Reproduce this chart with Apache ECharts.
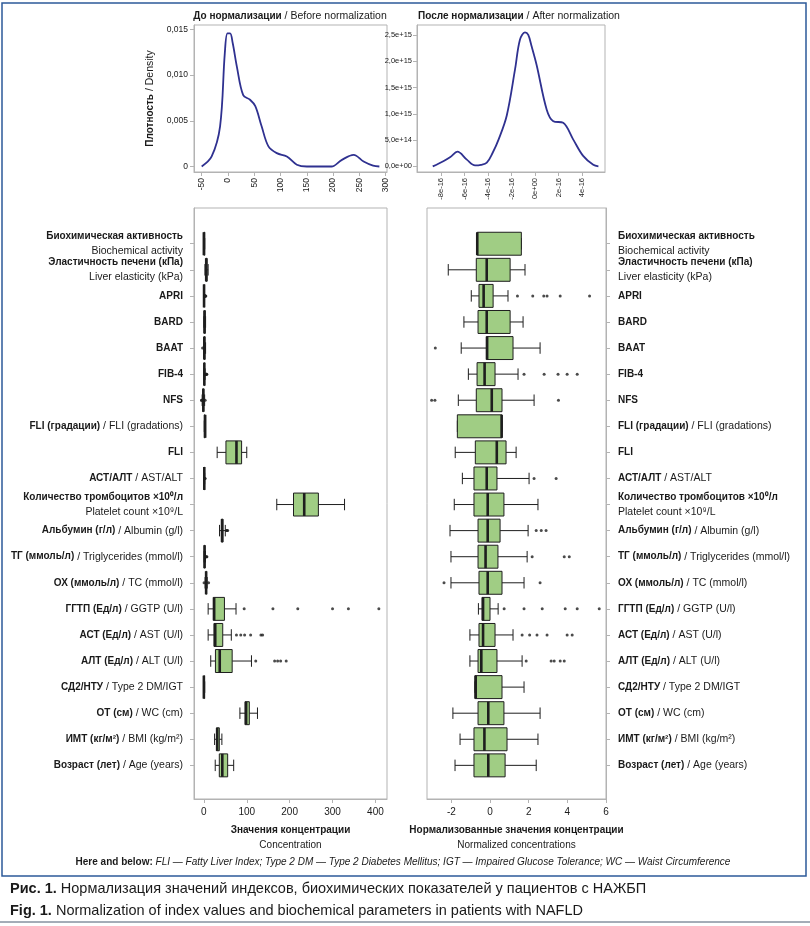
<!DOCTYPE html>
<html>
<head>
<meta charset="utf-8">
<title>Нормализация значений индексов</title>
<script src="https://cdn.jsdelivr.net/npm/echarts@6/dist/echarts.min.js"></script>
<style>
  html, body { margin: 0; padding: 0; background: #fff; }
  #chart { width: 810px; height: 926px; }
</style>
</head>
<body>
<div id="chart"></div>
<script>
var FONT = '"Liberation Sans", Arial, sans-serif';
var FRAME = '#b3b3b3';

// --- density curves (top) ---
var beforeX = [-50, -31, -15, -6, -1, 4, 9, 17, 29, 42, 52, 64, 77, 93, 112, 131, 150, 175, 197, 216, 239, 258, 276, 288];
var beforeY = [0, 0.0011, 0.0044, 0.0124, 0.01455, 0.01455, 0.0135, 0.0109, 0.0078, 0.0073, 0.0066, 0.0044, 0.0022, 0.00146, 0.0011, 0.0002, 0, 0, 0, 0.0007, 0.00128, 0.00055, 0.0001, 0];
var beforeXTicks = [-50, 0, 50, 100, 150, 200, 250, 300];
var beforeYTicks = [0, 0.005, 0.01, 0.015];
var beforeYLabels = ['0', '0,005', '0,010', '0,015'];

// x in units of 1e-16, y in units of 1e15
var afterX = [-8.7, -7.8, -7.2, -6.6, -5.8, -5.1, -4.6, -4.1, -3.6, -3.1, -2.4, -1.7, -1.28, -0.85, -0.57, -0.28, 0.14, 1.0, 1.56, 2.4, 3.26, 4.1, 4.96, 5.4];
var afterY = [0, 0.1, 0.18, 0.28, 0.13, 0.02, 0.03, 0.07, 0.26, 0.51, 0.97, 1.84, 2.41, 2.55, 2.5, 2.28, 1.93, 1.08, 0.86, 0.83, 0.51, 0.2, 0.03, 0];
var afterXTicks = [-8, -6, -4, -2, 0, 2, 4];
var afterXLabels = ['-8e-16', '-6e-16', '-4e-16', '-2e-16', '0e+00', '2e-16', '4e-16'];
var afterYTicks = [0, 0.5, 1, 1.5, 2, 2.5];
var afterYLabels = ['0,0e+00', '5,0e+14', '1,0e+15', '1,5e+15', '2,0e+15', '2,5e+15'];

// --- rows of the box plots (top to bottom) ---
var rowBold = ['Биохимическая активность', 'Эластичность печени (кПа)', 'APRI', 'BARD', 'BAAT', 'FIB-4', 'NFS',
  'FLI (градации)', 'FLI', 'АСТ/АЛТ', 'Количество тромбоцитов ×10⁰/л', 'Альбумин (г/л)', 'ТГ (ммоль/л)',
  'ОХ (ммоль/л)', 'ГГТП (Ед/л)', 'АСТ (Ед/л)', 'АЛТ (Ед/л)', 'СД2/НТУ', 'ОТ (см)', 'ИМТ (кг/м²)', 'Возраст (лет)'];
var rowRegular = ['Biochemical activity', 'Liver elasticity (kPa)', '', '', '', '', '',
  'FLI (gradations)', '', 'AST/ALT', 'Platelet count ×10⁹/L', 'Albumin (g/l)', 'Triglycerides (mmol/l)',
  'TC (mmol/l)', 'GGTP (U/l)', 'AST (U/l)', 'ALT (U/l)', 'Type 2 DM/IGT', 'WC (cm)', 'BMI (kg/m²)', 'Age (years)'];
var twoLineRows = [0, 1, 10];

// [min, Q1, median, Q3, max] — concentration values
var rawStats = [
  [0, 0, 0, 2, 2], [2.5, 4.5, 5.5, 7.5, 10], [0.1, 0.3, 0.45, 0.7, 1.3], [0, 1, 1.5, 3, 4], [0, 1, 1, 2.5, 4],
  [0.3, 0.8, 1.1, 1.6, 2.8], [-4, -2.5, -1.2, -0.5, 1.8], [1, 1, 3, 3, 3], [31, 51.5, 76, 88, 100],
  [0.4, 0.8, 1, 1.3, 1.9], [170, 209, 234, 267, 328], [36.5, 41, 42.5, 44.5, 50], [0.5, 1.2, 1.6, 2.3, 3.8],
  [2.8, 4.6, 5.3, 6.1, 7.8], [10, 22, 24, 48, 75], [10, 23.5, 26.5, 44, 64], [16, 27, 37, 66, 111],
  [0, 0, 0, 1, 2], [84, 96, 98.5, 106, 125], [25, 29.5, 31, 36, 42], [26.5, 36, 43, 55.5, 69.5]
];
var rawOutliers = [
  [], [], [1.7, 2.3, 2.7, 2.9, 3.4, 4.6], [], [-3], [3.2, 4.5, 5.5, 6, 7], [-5.5, -5, 3], [], [],
  [2.2, 3], [], [52.5, 54, 55.5], [4.3, 6.5, 7], [0.5, 11], [94, 161, 219, 300, 337, 408],
  [76, 86, 95, 109, 133, 137], [121, 165, 172, 179, 192], [], [], [], []
];

// [min, Q1, median, Q3, max] — normalized values
var normStats = [
  [-0.66, -0.66, -0.66, 1.62, 1.62], [-2.16, -0.71, -0.17, 1.04, 1.81], [-0.97, -0.57, -0.33, 0.16, 0.93],
  [-1.35, -0.62, -0.17, 1.04, 1.71], [-1.49, -0.19, -0.15, 1.19, 2.59], [-1.12, -0.67, -0.28, 0.26, 1.45],
  [-1.64, -0.71, 0.09, 0.62, 2.28], [-1.69, -1.69, 0.6, 0.62, 0.62], [-1.8, -0.76, 0.35, 0.83, 1.35],
  [-1.43, -0.83, -0.17, 0.36, 2.02], [-1.85, -0.83, -0.12, 0.72, 2.48], [-2.07, -0.62, -0.12, 0.52, 1.97],
  [-2.02, -0.62, -0.23, 0.41, 1.92], [-2.02, -0.57, -0.12, 0.62, 1.76], [-0.6, -0.41, -0.36, 0, 0.42],
  [-1.04, -0.57, -0.36, 0.26, 1.19], [-1.04, -0.62, -0.45, 0.36, 1.66], [-0.78, -0.78, -0.74, 0.62, 1.76],
  [-1.92, -0.62, -0.09, 0.72, 2.59], [-1.55, -0.83, -0.29, 0.88, 2.48], [-1.81, -0.83, -0.09, 0.78, 2.39]
];
var normOutliers = [
  [], [], [1.42, 2.21, 2.78, 2.95, 3.63, 5.15], [], [-2.83], [1.76, 2.8, 3.52, 3.99, 4.51],
  [-3.02, -2.85, 3.54], [], [], [2.28, 3.42], [], [2.39, 2.65, 2.9], [2.18, 3.84, 4.1], [-2.38, 2.59],
  [0.73, 1.76, 2.7, 3.89, 4.51, 5.65], [1.66, 2.05, 2.43, 2.95, 3.99, 4.25], [1.87, 3.16, 3.32, 3.63, 3.84],
  [], [], [], []
];

var rawTicks = [0, 100, 200, 300, 400];
var normTicks = [-2, 0, 2, 4, 6];

var rowIdx = rowBold.map(function (_, i) { return i; });

function rowLabel(i) {
  var b = rowBold[i], r = rowRegular[i];
  if (!r) return '{b|' + b + '}';
  if (twoLineRows.indexOf(i) >= 0) return '{b|' + b + '}\n{r|' + r + '}';
  return '{b|' + b + '}{r| / ' + r + '}';
}

function boxData(stats) {
  return stats.map(function (s, i) { return [i].concat(s); });
}
function outlierData(outs) {
  var d = [];
  outs.forEach(function (arr, i) { arr.forEach(function (v) { d.push([v, i]); }); });
  return d;
}

function renderBox(params, api) {
  var i = api.value(0);
  var band = api.size([0, 1])[1];
  var h = band * 0.88;
  var pLo = api.coord([api.value(1), i]);
  var pQ1 = api.coord([api.value(2), i]);
  var pMd = api.coord([api.value(3), i]);
  var pQ3 = api.coord([api.value(4), i]);
  var pHi = api.coord([api.value(5), i]);
  var y = pMd[1];
  var stroke = { stroke: '#1e1e1e', lineWidth: 1 };
  return {
    type: 'group',
    children: [
      { type: 'line', shape: { x1: pLo[0], y1: y, x2: pQ1[0], y2: y }, style: stroke },
      { type: 'line', shape: { x1: pQ3[0], y1: y, x2: pHi[0], y2: y }, style: stroke },
      { type: 'line', shape: { x1: pLo[0], y1: y - h / 4, x2: pLo[0], y2: y + h / 4 }, style: stroke },
      { type: 'line', shape: { x1: pHi[0], y1: y - h / 4, x2: pHi[0], y2: y + h / 4 }, style: stroke },
      { type: 'rect', shape: { x: pQ1[0], y: y - h / 2, width: pQ3[0] - pQ1[0], height: h },
        style: { fill: '#a0cd84', stroke: '#1e1e1e', lineWidth: 1 } },
      { type: 'line', shape: { x1: pMd[0], y1: y - h / 2, x2: pMd[0], y2: y + h / 2 },
        style: { stroke: '#1e1e1e', lineWidth: 2.6 } }
    ]
  };
}

var labelRich = {
  b: { fontFamily: FONT, fontWeight: 'bold', fontSize: 10, color: '#1a1a1a', lineHeight: 15 },
  r: { fontFamily: FONT, fontWeight: 'normal', fontSize: 10.5, color: '#1a1a1a', lineHeight: 15 }
};
var titleRich = {
  b: { fontFamily: FONT, fontWeight: 'bold', fontSize: 10, color: '#1a1a1a' },
  r: { fontFamily: FONT, fontWeight: 'normal', fontSize: 10.5, color: '#1a1a1a' }
};
var tickText = { fontFamily: FONT, fontSize: 10, color: '#1a1a1a' };
var noZeroLine = { onZero: false, show: true, lineStyle: { color: FRAME } };

var chart = echarts.init(document.getElementById('chart'), null, { renderer: 'canvas' });

var option = {
  backgroundColor: '#fff',
  animation: false,
  title: [
    { text: '{b|До нормализации}{r| / Before normalization}', left: 290, top: 11, textAlign: 'center', padding: 0,
      textStyle: { fontWeight: 'normal', fontSize: 10, rich: titleRich } },
    { text: '{b|После нормализации}{r| / After normalization}', left: 519, top: 11, textAlign: 'center', padding: 0,
      textStyle: { fontWeight: 'normal', fontSize: 10, rich: titleRich } },
    { text: '{b|Here and below: }{i|FLI — Fatty Liver Index; Type 2 DM — Type 2 Diabetes Mellitus; IGT — Impaired Glucose Tolerance; WC — Waist Circumference}',
      left: 403, top: 857, textAlign: 'center', padding: 0,
      textStyle: { fontWeight: 'normal', fontSize: 10, rich: {
        b: { fontFamily: FONT, fontWeight: 'bold', fontSize: 10, color: '#1a1a1a' },
        i: { fontFamily: FONT, fontStyle: 'italic', fontWeight: 'normal', fontSize: 10, color: '#1a1a1a' } } } },
    { text: '{b|Рис. 1. }{r|Нормализация значений индексов, биохимических показателей у пациентов с НАЖБП}',
      left: 10, top: 881, padding: 0,
      textStyle: { fontWeight: 'normal', fontSize: 14.5, rich: {
        b: { fontFamily: FONT, fontWeight: 'bold', fontSize: 14.5, color: '#1a1a1a' },
        r: { fontFamily: FONT, fontWeight: 'normal', fontSize: 14.5, color: '#1a1a1a' } } } },
    { text: '{b|Fig. 1. }{r|Normalization of index values and biochemical parameters in patients with NAFLD}',
      left: 10, top: 903, padding: 0,
      textStyle: { fontWeight: 'normal', fontSize: 14.5, rich: {
        b: { fontFamily: FONT, fontWeight: 'bold', fontSize: 14.5, color: '#1a1a1a' },
        r: { fontFamily: FONT, fontWeight: 'normal', fontSize: 14.5, color: '#1a1a1a' } } } }
  ],
  graphic: [
    { type: 'rect', shape: { x: 2, y: 3, width: 804, height: 873 }, style: { fill: null, stroke: '#2d5a99', lineWidth: 1.5 }, silent: true },
    { type: 'line', shape: { x1: 0, y1: 922, x2: 810, y2: 922 }, style: { stroke: '#4a5a70', lineWidth: 1 }, silent: true }
  ],
  grid: [
    { left: 194, top: 25, width: 193, height: 147, show: true, borderColor: FRAME, borderWidth: 1, outerBoundsMode: 'none' },
    { left: 417, top: 25, width: 188, height: 147, show: true, borderColor: FRAME, borderWidth: 1, outerBoundsMode: 'none' },
    { left: 194, top: 208, width: 193, height: 591, show: true, borderColor: FRAME, borderWidth: 1, outerBoundsMode: 'none' },
    { left: 427, top: 208, width: 179, height: 591, show: true, borderColor: FRAME, borderWidth: 1, outerBoundsMode: 'none' }
  ],
  xAxis: [
    { gridIndex: 0, type: 'value', min: -64.6, max: 302.5,
      axisLine: noZeroLine, splitLine: { show: false },
      axisTick: { customValues: beforeXTicks, length: 4, lineStyle: { color: FRAME } },
      axisLabel: { customValues: beforeXTicks, rotate: 90, margin: 6, ...tickText, fontSize: 8.5 } },
    { gridIndex: 1, type: 'value', min: -10.04, max: 5.96,
      axisLine: noZeroLine, splitLine: { show: false },
      axisTick: { customValues: afterXTicks, length: 4, lineStyle: { color: FRAME } },
      axisLabel: { customValues: afterXTicks, rotate: 90, margin: 6, ...tickText, fontSize: 7.5,
        formatter: function (v) { return afterXLabels[afterXTicks.indexOf(v)]; } } },
    { gridIndex: 2, type: 'value', min: -23, max: 427,
      axisLine: noZeroLine, splitLine: { show: false },
      axisTick: { customValues: rawTicks, length: 4, lineStyle: { color: FRAME } },
      axisLabel: { customValues: rawTicks, margin: 8, ...tickText },
      name: '{b|Значения концентрации}\n{r|Concentration}', nameLocation: 'middle', nameGap: 24,
      nameTextStyle: { rich: { b: labelRich.b, r: { ...labelRich.r, fontSize: 10 } } } },
    { gridIndex: 3, type: 'value', min: -3.26, max: 6,
      axisLine: noZeroLine, splitLine: { show: false },
      axisTick: { customValues: normTicks, length: 4, lineStyle: { color: FRAME } },
      axisLabel: { customValues: normTicks, margin: 8, ...tickText },
      name: '{b|Нормализованные значения концентрации}\n{r|Normalized concentrations}', nameLocation: 'middle', nameGap: 24,
      nameTextStyle: { rich: { b: labelRich.b, r: { ...labelRich.r, fontSize: 10 } } } }
  ],
  yAxis: [
    { gridIndex: 0, type: 'value', min: -0.0006, max: 0.01547,
      axisLine: noZeroLine, splitLine: { show: false },
      axisTick: { show: true, customValues: beforeYTicks, length: 4, lineStyle: { color: FRAME } },
      axisLabel: { customValues: beforeYTicks, margin: 6, ...tickText, fontSize: 8.5,
        formatter: function (v) { return beforeYLabels[beforeYTicks.indexOf(v)]; } },
      name: '{b|Плотность}{r| / Density}', nameLocation: 'middle', nameGap: 38, nameRotate: 90,
      nameTextStyle: { fontSize: 10, rich: titleRich } },
    { gridIndex: 1, type: 'value', min: -0.106, max: 2.69,
      axisLine: noZeroLine, splitLine: { show: false },
      axisTick: { show: true, customValues: afterYTicks, length: 4, lineStyle: { color: FRAME } },
      axisLabel: { customValues: afterYTicks, margin: 5, ...tickText, fontSize: 7.5,
        formatter: function (v) { return afterYLabels[afterYTicks.indexOf(v)]; } } },
    { gridIndex: 2, type: 'value', inverse: true, min: -1.37, max: 21.29,
      axisLine: noZeroLine, splitLine: { show: false },
      axisTick: { show: true, customValues: rowIdx, length: 4, lineStyle: { color: FRAME } },
      axisLabel: { customValues: rowIdx, margin: 11, showMinLabel: true, showMaxLabel: true, hideOverlap: false,
        rich: labelRich, formatter: function (v) { return rowLabel(v); } } },
    { gridIndex: 3, type: 'value', inverse: true, min: -1.37, max: 21.29, position: 'right',
      axisLine: noZeroLine, splitLine: { show: false },
      axisTick: { show: true, customValues: rowIdx, length: 4, lineStyle: { color: FRAME } },
      axisLabel: { customValues: rowIdx, margin: 12, showMinLabel: true, showMaxLabel: true, hideOverlap: false,
        rich: labelRich, formatter: function (v) { return rowLabel(v); } } }
  ],
  series: [
    { type: 'line', xAxisIndex: 0, yAxisIndex: 0, smooth: 0.35, showSymbol: false,
      lineStyle: { color: '#2f3190', width: 1.8 },
      data: beforeX.map(function (x, i) { return [x, beforeY[i]]; }) },
    { type: 'line', xAxisIndex: 1, yAxisIndex: 1, smooth: 0.35, showSymbol: false,
      lineStyle: { color: '#2f3190', width: 1.8 },
      data: afterX.map(function (x, i) { return [x, afterY[i]]; }) },
    { type: 'custom', xAxisIndex: 2, yAxisIndex: 2, renderItem: renderBox,
      encode: { x: [1, 2, 3, 4, 5], y: 0 }, data: boxData(rawStats) },
    { type: 'scatter', xAxisIndex: 2, yAxisIndex: 2, symbol: 'circle', symbolSize: 3,
      itemStyle: { color: '#1e1e1e' }, data: outlierData(rawOutliers) },
    { type: 'custom', xAxisIndex: 3, yAxisIndex: 3, renderItem: renderBox,
      encode: { x: [1, 2, 3, 4, 5], y: 0 }, data: boxData(normStats) },
    { type: 'scatter', xAxisIndex: 3, yAxisIndex: 3, symbol: 'circle', symbolSize: 3,
      itemStyle: { color: '#1e1e1e' }, data: outlierData(normOutliers) }
  ]
};

chart.setOption(option);
</script>
</body>
</html>
